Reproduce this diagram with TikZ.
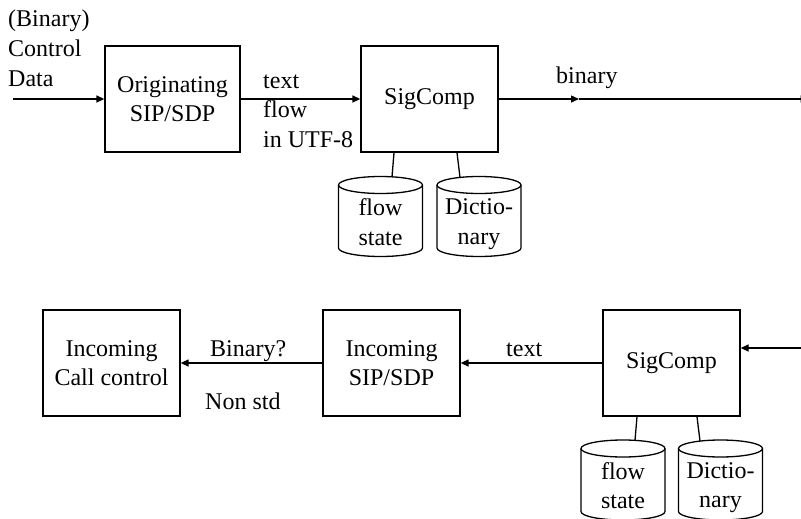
\documentclass[tikz,border=0pt]{standalone}
\usepackage{fontspec}
\setmainfont{Liberation Serif}
\usetikzlibrary{arrows.meta,calc}
\newcommand\mycyl[5]{%
  % #1 name, #2 centre x, #3 top ellipse centre y, #4 text, #5 text centre y offset
  \draw[cylln] (#2-42,#3) -- (#2-42,#3+63)
     arc[start angle=180,end angle=360,x radius=42pt,y radius=8.5pt] -- (#2+42,#3);
  \draw[cylln] (#2,#3) ellipse[x radius=42pt,y radius=8.5pt];
  \node[cyltext] (#1) at (#2,#3+#5) {#4};
}
\begin{document}
\begin{tikzpicture}[x=1pt,y=-1pt,
  every node/.style={font=\fontsize{24}{29.5}\selectfont},
  box/.style={draw, line width=1.3pt, minimum width=137pt, minimum height=106pt,
              align=center, inner sep=0pt},
  lbl/.style={inner sep=0pt, align=left},
  cyltext/.style={inner sep=0pt, align=center},
  arr/.style={line width=1.3pt, -{Triangle[length=8pt,width=7pt]}},
  ln/.style={line width=1.3pt},
  cylln/.style={line width=1.3pt}]
\useasboundingbox (0,0) rectangle (801,519);
\clip (0,0) rectangle (801,519);

% ---------- top row ----------
\node[box, minimum width=135pt] (orig) at (172.5,99) {Originating\\SIP/SDP};
\node[box] (sigA) at (429.5,99) {SigComp};

\coordinate (inL) at (13,99);
\coordinate (midA) at (579,99);
\coordinate (outR) at (808.5,99);
\draw[arr] (inL) -- (orig.west);
\draw[arr] (orig.east) -- (sigA.west);
\draw[arr] (sigA.east) -- (midA);
\draw[arr] (midA) -- (outR);

\node[lbl, anchor=base west] (bcd) at (8,86) {(Binary)\\Control\\Data};
\node[lbl, anchor=base west] (tfl) at (263,147) {text\\flow\\in UTF-8};
\node[lbl, anchor=base west] (bin) at (556,83.3) {binary};

\mycyl{fsA}{380.5}{185}{flow\\state}{37}
\mycyl{dcA}{479}{185}{Dictio-\\nary}{39}
\coordinate (fsAtop) at (392,177);
\coordinate (dcAtop) at (460,177.4);
\draw[ln] ([xshift=-35.5pt]sigA.south) -- (fsAtop);
\draw[ln] ([xshift=27.5pt]sigA.south) -- (dcAtop);

% ---------- bottom row ----------
\node[box] (call) at (111.5,363) {Incoming\\Call control};
\node[box] (sipB) at (391.5,363) {Incoming\\SIP/SDP};
\node[box] (sigB) at (671.5,363) {SigComp};

\coordinate (inR) at (803,348);
\draw[arr] (inR) -- (inR -| sigB.east);
\draw[arr] (sigB.west) -- (sipB.east);
\draw[arr] (sipB.west) -- (call.east);

\node[lbl, anchor=base west] (bq) at (210,356) {Binary?};
\node[lbl, anchor=base west] (ns) at (205,409) {Non std};
\node[lbl, anchor=base west] (txB) at (506,356.5) {text};

\mycyl{fsB}{623}{448.5}{flow\\state}{37}
\mycyl{dcB}{720.5}{448.5}{Dictio-\\nary}{39}
\coordinate (fsBtop) at (635,440.4);
\coordinate (dcBtop) at (700,441.1);
\draw[ln] ([xshift=-34.5pt]sigB.south) -- (fsBtop);
\draw[ln] ([xshift=25.5pt]sigB.south) -- (dcBtop);
\end{tikzpicture}
\end{document}
